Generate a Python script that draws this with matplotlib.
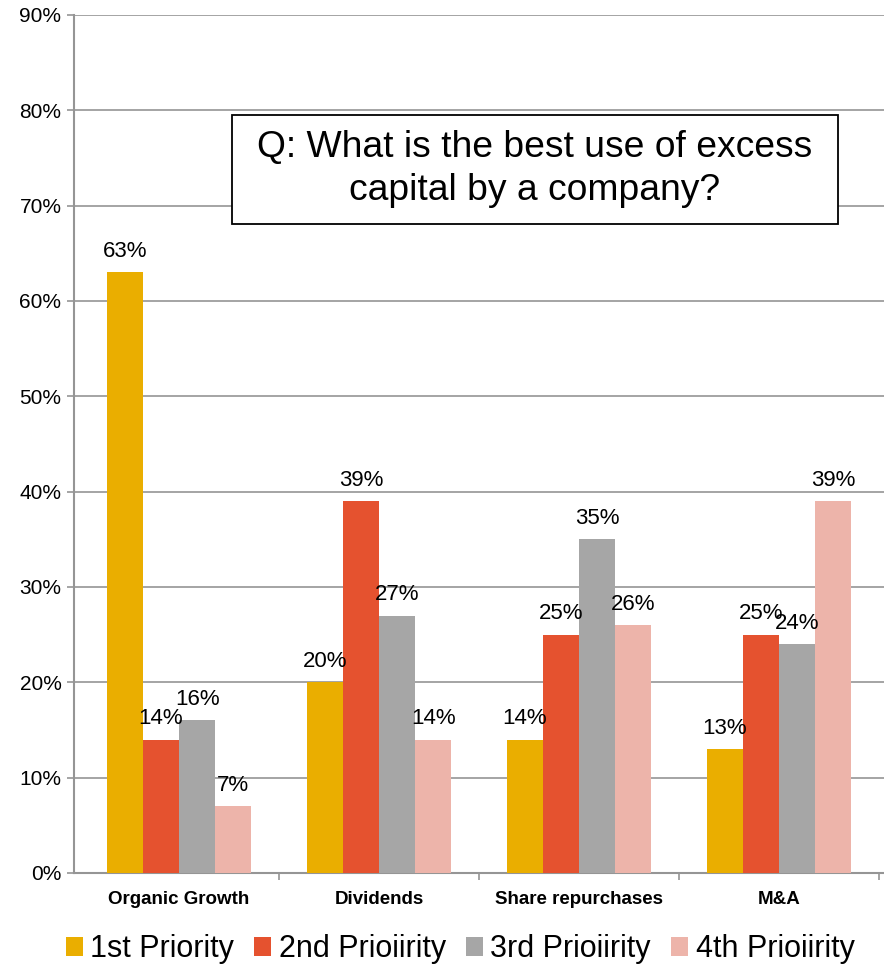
import matplotlib
matplotlib.use("Agg")
import matplotlib.pyplot as plt
from matplotlib.patches import Rectangle
import numpy as np

plt.rcParams['font.family'] = ['Liberation Sans', 'DejaVu Sans']

categories = ["Organic Growth", "Dividends", "Share repurchases", "M&A"]
series_names = ["1st Priority", "2nd Prioiirity", "3rd Prioiirity", "4th Prioiirity"]
first_priority = [63, 20, 14, 13]
second_priority = [14, 39, 25, 25]
third_priority = [16, 27, 35, 24]
fourth_priority = [7, 14, 26, 39]
series_values = [first_priority, second_priority, third_priority, fourth_priority]
colors = ["#EAAE00", "#E5522F", "#A6A6A6", "#EDB4AA"]
y_ticks = [0, 10, 20, 30, 40, 50, 60, 70, 80, 90]
y_tick_labels = [f"{v}%" for v in y_ticks]

W, H = 884, 964
fig = plt.figure(figsize=(W / 100, H / 100), dpi=100)
ax = fig.add_axes([74 / W, 1 - 873 / H, (884 - 74) / W, (873 - 15) / H])

x = np.arange(len(categories))
bw = 0.181
for i, (name, vals, c) in enumerate(zip(series_names, series_values, colors)):
    pos = x + (i - 1.5) * bw
    bars = ax.bar(pos, vals, width=bw, color=c, label=name, zorder=3)
    for b, v in zip(bars, vals):
        ax.annotate(f"{v}%", (b.get_x() + b.get_width() / 2, v),
                    xytext=(0, 11), textcoords="offset points",
                    ha="center", va="baseline", fontsize=16, color="black", zorder=5)

# each category spans 200 px, starting just right of the value axis
ax.set_xlim(-0.5 - 5 / 200, 3.5 + 5 / 200)
ax.set_ylim(0, 90)
ax.set_yticks(y_ticks)
ax.set_yticklabels(y_tick_labels, fontsize=15)
ax.yaxis.grid(True, color="#959595", linewidth=1.2, zorder=0)
ax.set_axisbelow(True)

ax.set_xticks(x)
ax.set_xticklabels(categories, fontsize=13.5, fontweight="bold")
ax.tick_params(axis="x", length=0, pad=13)
ax.set_xticks(np.arange(0.5, 4.0, 1.0), minor=True)
ax.tick_params(axis="x", which="minor", length=5, color="#959595", width=1.2)
ax.tick_params(axis="y", length=5, color="#959595", width=1.2, pad=4)

for s in ["top", "right"]:
    ax.spines[s].set_visible(False)
for s in ["left", "bottom"]:
    ax.spines[s].set_color("#959595")
    ax.spines[s].set_linewidth(1.5)

# question box
fig.patches.append(Rectangle((232 / W, 1 - 224 / H), (838 - 232) / W, (224 - 115) / H,
                             transform=fig.transFigure, facecolor="white",
                             edgecolor="black", linewidth=1.3, zorder=10))
fig.text(535 / W, 1 - 169 / H, "Q: What is the best use of excess\ncapital by a company?",
         ha="center", va="center", fontsize=26.8, linespacing=1.3, zorder=11)

fig.legend(loc="center", bbox_to_anchor=(460 / W, 1 - 949 / H), ncol=4, frameon=False,
           fontsize=22, handlelength=0.56, handleheight=0.6, handletextpad=0.25,
           columnspacing=0.65, borderaxespad=0)

fig.savefig("out.png", dpi=100)
